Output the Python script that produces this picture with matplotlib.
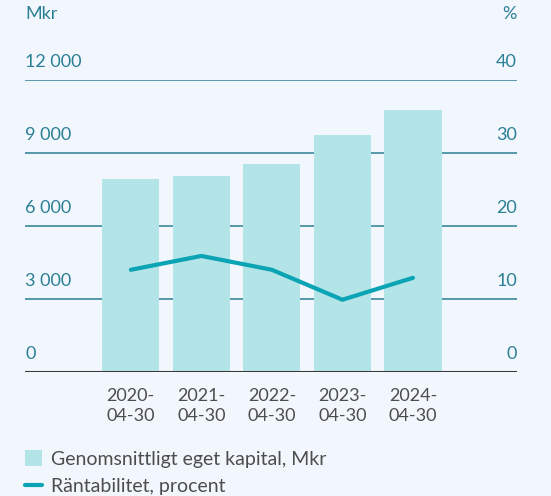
import numpy as np
import matplotlib.pyplot as plt
from matplotlib.patches import Patch
from matplotlib.lines import Line2D

# Daten
datum = ['2020-\n04-30', '2021-\n04-30', '2022-\n04-30', '2023-\n04-30', '2024-\n04-30']
kapital = [7930, 8060, 8550, 9740, 10770]
rantabilitet = [14.0, 15.9, 14.0, 9.9, 12.9]
yticks_vanster = [0, 3000, 6000, 9000, 12000]
ytick_text = ['0', '3 000', '6 000', '9 000', '12 000']
yticks_hoger = [0, 10, 20, 30, 40]

bg = '#f2f7fd'
teal = '#2b7f95'
bar_col = '#b3e4e8'
line_col = '#0aa4b4'
grey = '#4d4d4d'
plt.rcParams['font.family'] = ['Lato', 'DejaVu Sans']

fig = plt.figure(figsize=(5.51, 4.96), dpi=100, facecolor=bg)
ax = fig.add_axes([25/551, 1-372/496, 492/551, 292/496])
ax.set_facecolor(bg)
ax2 = ax.twinx()

x = np.arange(len(datum))
ax.set_xlim(-1.5, 5.475)
ax.set_ylim(0, 12000)
ax2.set_ylim(0, 40)

for v in yticks_vanster[1:]:
    ax.axhline(v, color=teal, lw=1.1, zorder=1)
ax.bar(x, kapital, width=0.81, color=bar_col, zorder=2)
ax.axhline(0, color='#3a3a3a', lw=2.2, zorder=4)
ax2.plot(x, rantabilitet, color=line_col, lw=3, solid_capstyle='round', zorder=5)

for a in (ax, ax2):
    for s in a.spines.values():
        s.set_visible(False)
    a.set_yticks([])
ax.set_xticks([])

# Etiketter ovanfor gridlinjerna
for v, t in zip(yticks_vanster, ytick_text):
    ax.text(-1.5, v + 430, t, ha='left', va='bottom', color=teal, fontsize=13)
for v in yticks_hoger:
    ax2.text(5.475, v + 1.43, str(v), ha='right', va='bottom', color=teal, fontsize=13)
ax.text(-1.5, 14400, 'Mkr', ha='left', va='bottom', color=teal, fontsize=13)
ax2.text(5.475, 48.0, '%', ha='right', va='bottom', color=teal, fontsize=13)

for xi, d in zip(x, datum):
    ax.text(xi, -650, d, ha='center', va='top', color=grey, fontsize=13, linespacing=1.3)

handles = [Patch(facecolor=bar_col, edgecolor='none'),
           Line2D([0], [0], color=line_col, lw=3, solid_capstyle='round')]
labels = ['Genomsnittligt eget kapital, Mkr', 'Räntabilitet, procent']
fig.legend(handles, labels, loc='lower left', bbox_to_anchor=(25/551, 1/496),
           frameon=False, fontsize=14, labelcolor=grey, handlelength=0.85,
           handleheight=0.85, handletextpad=0.5, labelspacing=0.5,
           borderpad=0, borderaxespad=0)

plt.savefig('out.png', dpi=100, facecolor=bg)
